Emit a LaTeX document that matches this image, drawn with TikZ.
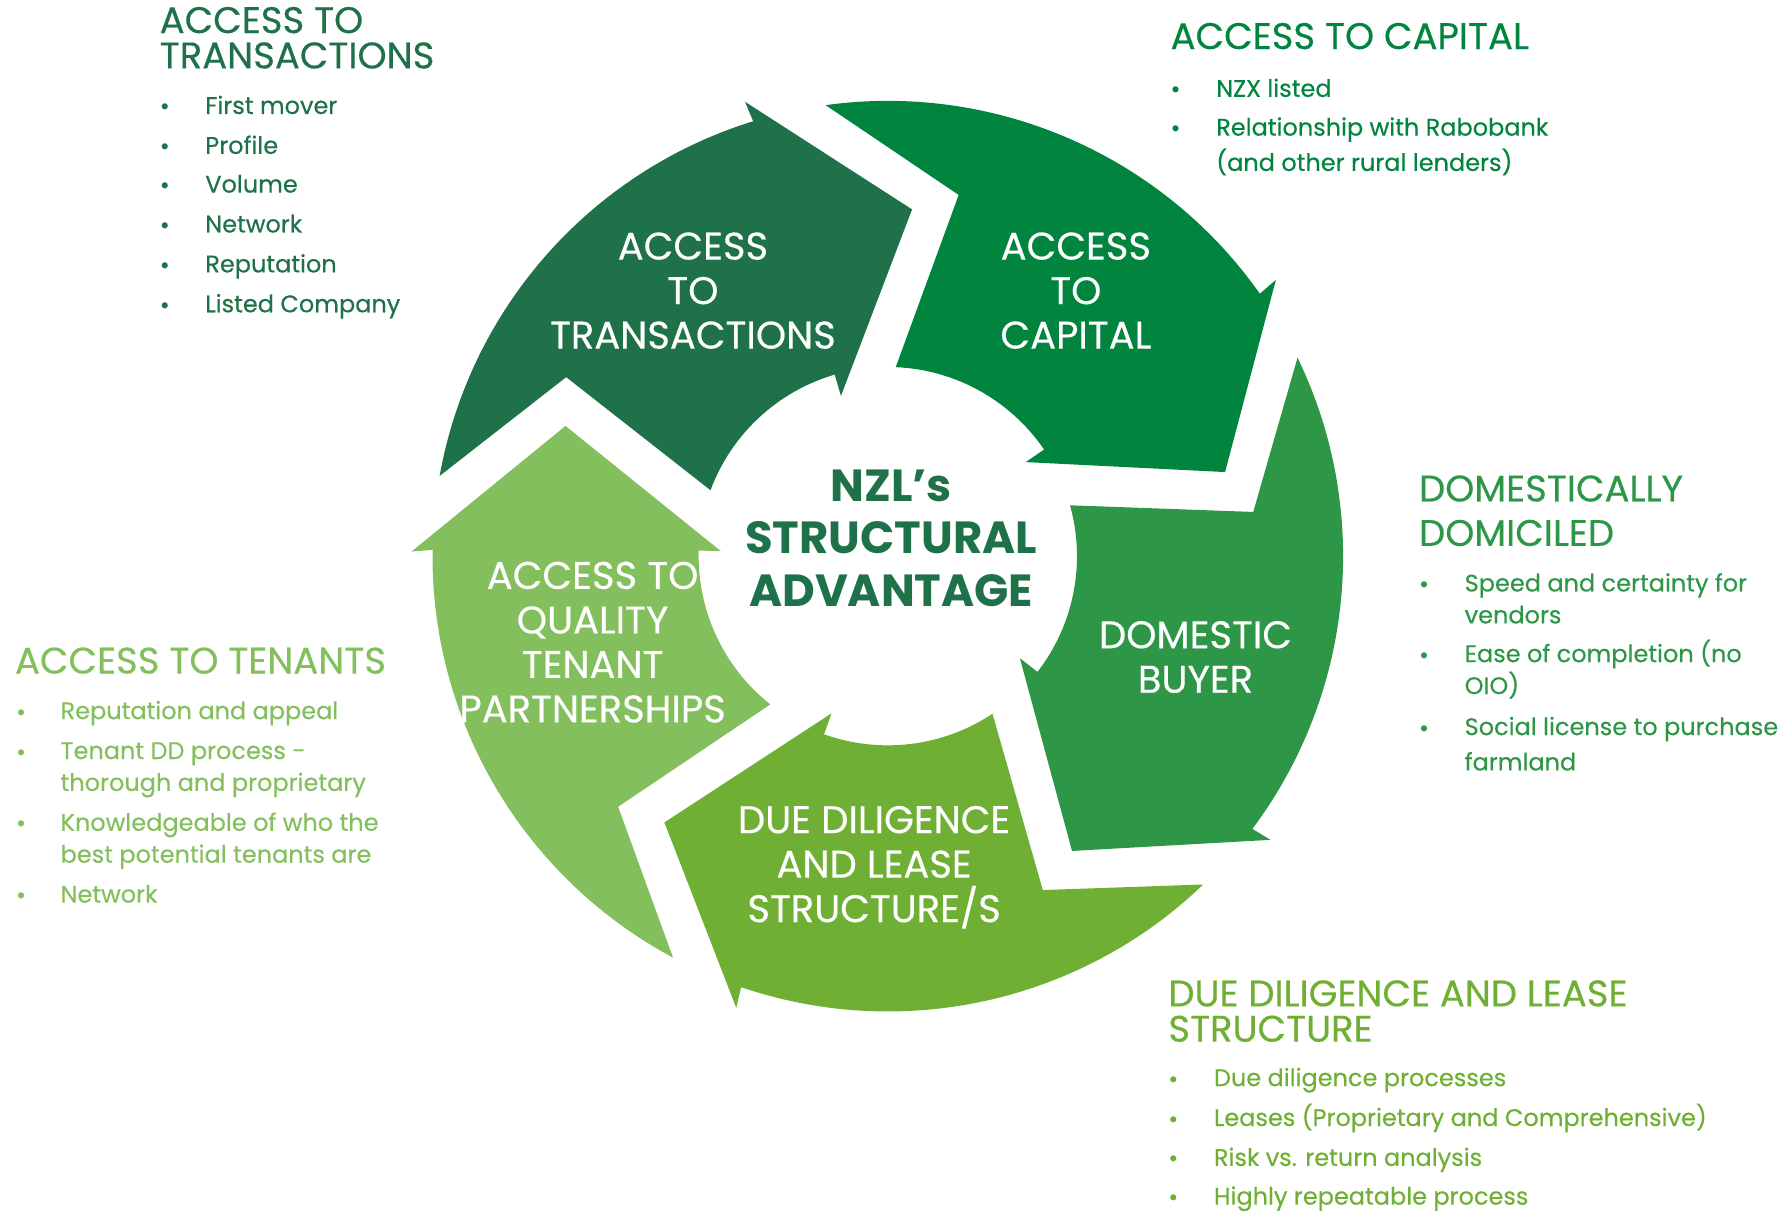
\documentclass[tikz,border=0pt]{standalone}
\usepackage{fontspec}
\setmainfont{Poppins}
\newfontface\medfont{Poppins}[FakeBold=0.35]
\definecolor{cA}{HTML}{1E7149}
\definecolor{cB}{HTML}{00843E}
\definecolor{cC}{HTML}{2E9647}
\definecolor{cD}{HTML}{6FAF33}
\definecolor{cE}{HTML}{84BF5D}
\begin{document}
\begin{tikzpicture}[x=1.1397pt,y=-1.1397pt,
  head/.style={anchor=base west,inner sep=0pt,text depth=0pt,font=\medfont\fontsize{37}{37}\selectfont},
  itm/.style={anchor=base west,inner sep=0pt,font=\medfont\fontsize{24}{24}\selectfont},
  bul/.style={anchor=base west,inner sep=0pt,font=\bfseries\fontsize{20}{20}\selectfont},
  lbl/.style={align=center,inner sep=0pt,text=white,font=\medfont\fontsize{38.5}{44.5}\selectfont},
  ctr/.style={align=center,inner sep=0pt,text=cA,font=\bfseries\fontsize{45}{52.4}\selectfont}]
\useasboundingbox (0,0) rectangle (1568,1062);
\begin{scope}[shift={(779,488)},x=1.1397pt,y=1.1397pt]
\foreach \k/\c in {0/cA,1/cB,2/cC,3/cD,4/cE}{
  \pgfmathsetmacro\o{-72*\k}
  \fill[\c] ({169.85+\o}:399.5) arc[start angle={169.85+\o}, end angle={107.2+\o}, radius=399.5]
    -- ({107.45+\o}:418) -- ({86+\o}:305) -- ({106.3+\o}:146.5) -- ({106.3+\o}:166)
    arc[start angle={106.3+\o}, end angle={159.6+\o}, radius=166]
    -- ({150.9+\o}:323) -- cycle;
}
\end{scope}
% arrow labels
\node[lbl] (lA) at (608,255) {ACCESS\\TO\\TRANSACTIONS};
\node[lbl] (lB) at (944,255) {ACCESS\\TO\\CAPITAL};
\node[lbl] (lC) at (1049,576.5) {DOMESTIC\\BUYER};
\node[lbl] (lD) at (767,761) {DUE DILIGENCE\\AND LEASE\\STRUCTURE/S};
\node[lbl] (lE) at (520,563.5) {ACCESS TO\\QUALITY\\TENANT\\PARTNERSHIPS};
\node[ctr] (ctr) at (782,472) {NZL’s\\STRUCTURAL\\ADVANTAGE};
% top-left
\begin{scope}[text=cA]
\node[head] (hA1) at (140,29) {ACCESS TO};
\node[head] (hA2) at (140,60) {TRANSACTIONS};
\foreach \y/\t [count=\i] in {100/First mover,135/Profile,169/Volume,204/Network,239/Reputation,274/Listed Company}{
  \node[bul] (bA\i) at (140,\y) {•};
  \node[itm] (tA\i) at (180,\y) {\t};
}
\end{scope}
% top-right
\begin{scope}[text=cB]
\node[head] (hB1) at (1027,43) {ACCESS TO CAPITAL};
\node[bul] (bB1) at (1027,85) {•};
\node[itm] (tB1) at (1067,85) {NZX listed};
\node[bul] (bB2) at (1027,119) {•};
\node[itm] (tB2) at (1067,119) {Relationship with Rabobank};
\node[itm] (tB3) at (1067,150) {(and other rural lenders)};
\end{scope}
% right
\begin{scope}[text=cC]
\node[head] (hC1) at (1245,440) {DOMESTICALLY};
\node[head] (hC2) at (1245,479) {DOMICILED};
\node[bul] (bC1) at (1245,519) {•};
\node[itm] (tC1) at (1285,519) {Speed and certainty for};
\node[itm] (tC2) at (1285,547) {vendors};
\node[bul] (bC2) at (1245,581) {•};
\node[itm] (tC3) at (1285,581) {Ease of completion (no};
\node[itm] (tC4) at (1285,609) {OIO)};
\node[bul] (bC3) at (1245,645) {•};
\node[itm] (tC5) at (1285,645) {Social license to purchase};
\node[itm] (tC6) at (1285,676) {farmland};
\end{scope}
% left
\begin{scope}[text=cE]
\node[head] (hE1) at (13,591) {ACCESS TO TENANTS};
\node[bul] (bE1) at (14,631) {•};
\node[itm] (tE1) at (53,631) {Reputation and appeal};
\node[bul] (bE2) at (14,666) {•};
\node[itm] (tE2) at (53,666) {Tenant DD process -};
\node[itm] (tE3) at (53,694) {thorough and proprietary};
\node[bul] (bE3) at (14,729) {•};
\node[itm] (tE4) at (53,729) {Knowledgeable of who the};
\node[itm] (tE5) at (53,757) {best potential tenants are};
\node[bul] (bE4) at (14,792) {•};
\node[itm] (tE6) at (53,792) {Network};
\end{scope}
% bottom-right
\begin{scope}[text=cD]
\node[head] (hD1) at (1025,883) {DUE DILIGENCE AND LEASE};
\node[head] (hD2) at (1025,914) {STRUCTURE};
\foreach \y/\t [count=\i] in {953/Due diligence processes,988/Leases (Proprietary and Comprehensive),1023/Risk vs. return analysis,1057/Highly repeatable process}{
  \node[bul] (bD\i) at (1025,\y) {•};
  \node[itm] (tD\i) at (1065,\y) {\t};
}
\end{scope}
\end{tikzpicture}
\end{document}
